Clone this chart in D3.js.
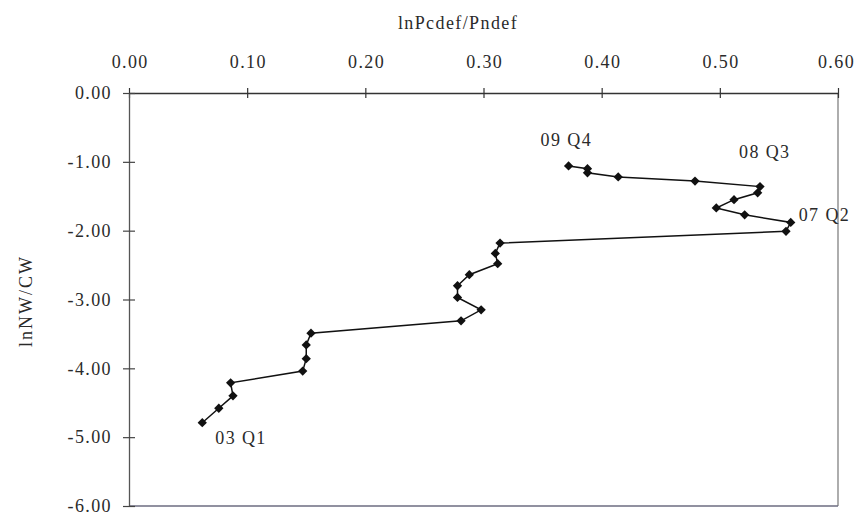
<!DOCTYPE html>
<html>
<head>
<meta charset="utf-8">
<script src="https://cdn.jsdelivr.net/npm/d3@7"></script>
<style>
  body { margin: 0; background: #fff; }
  svg text { font-family: "Liberation Serif", "DejaVu Serif", serif; fill: #2a2a2a; letter-spacing: 1.4px; }
</style>
</head>
<body>
<div id="chart"></div>
<script>
// quarters 03 Q1 .. 09 Q4
var quarters = [];
for (var yr = 3; yr <= 9; yr++) {
    for (var q = 1; q <= 4; q++) quarters.push("0" + yr + " Q" + q);
}
var pricePremium = [0.062, 0.076, 0.088, 0.086, 0.147, 0.150, 0.150, 0.154,
    0.281, 0.298, 0.278, 0.278, 0.288, 0.312, 0.310, 0.314,
    0.556, 0.560, 0.521, 0.497, 0.512, 0.532, 0.534, 0.479,
    0.414, 0.388, 0.388, 0.372];
var wageRatio = [-4.79, -4.58, -4.40, -4.21, -4.04, -3.86, -3.66, -3.49,
    -3.31, -3.15, -2.97, -2.80, -2.64, -2.48, -2.33, -2.18,
    -2.01, -1.88, -1.77, -1.67, -1.55, -1.45, -1.36, -1.28,
    -1.22, -1.16, -1.10, -1.06];
var xTicks = [0, 0.1, 0.2, 0.3, 0.4, 0.5, 0.6];
var yTicks = [0, -1, -2, -3, -4, -5, -6];
var labelled = ["03 Q1", "07 Q2", "08 Q3", "09 Q4"];

var width = 856, height = 515;
var margin = { top: 93, right: 18, bottom: 9, left: 129 };

var svg = d3.select("#chart").append("svg")
    .attr("width", width)
    .attr("height", height);

var x = d3.scaleLinear().domain([0, 0.6]).range([margin.left, width - margin.right]);
var y = d3.scaleLinear().domain([0, -6]).range([margin.top, height - margin.bottom]);

var fmt = function (d) { return d.toFixed(2); };  // plain hyphen for negatives

// frame: right and bottom borders
svg.append("line")
    .attr("x1", x(0.6)).attr("x2", x(0.6))
    .attr("y1", y(0)).attr("y2", y(-6))
    .attr("stroke", "#777").attr("stroke-width", 1.2);
svg.append("line")
    .attr("x1", x(0)).attr("x2", x(0.6))
    .attr("y1", y(-6)).attr("y2", y(-6))
    .attr("stroke", "#6c6c80").attr("stroke-width", 1.4);

// top axis (crossing ticks)
var xAxis = d3.axisTop(x)
    .tickValues(xTicks)
    .tickFormat(fmt)
    .tickSizeInner(0).tickSizeOuter(0).tickPadding(25);
var gx = svg.append("g")
    .attr("transform", "translate(0," + y(0) + ")")
    .call(xAxis);
gx.select(".domain").attr("stroke", "#333").attr("stroke-width", 1.6);
gx.selectAll(".tick text")
    .attr("font-size", 18).attr("fill", "#2a2a2a")
    .attr("dx", function (d) { return d === 0.6 ? "-2px" : "0.7px"; });
gx.selectAll(".tick").append("line")
    .attr("y1", -5).attr("y2", 5)
    .attr("stroke", "#333").attr("stroke-width", 1.2);

// left axis (crossing ticks)
var yAxis = d3.axisLeft(y)
    .tickValues(yTicks)
    .tickFormat(fmt)
    .tickSizeInner(0).tickSizeOuter(0).tickPadding(17);
var gy = svg.append("g")
    .attr("transform", "translate(" + x(0) + ",0)")
    .call(yAxis);
gy.select(".domain").attr("stroke", "#555").attr("stroke-width", 1.3);
gy.selectAll(".tick text").attr("font-size", 18).attr("fill", "#2a2a2a");
gy.selectAll(".tick").append("line")
    .attr("x1", -6).attr("x2", 6)
    .attr("stroke", "#444").attr("stroke-width", 1.2);

// axis titles
svg.append("text")
    .attr("x", 458)
    .attr("y", 29)
    .attr("text-anchor", "middle")
    .attr("font-size", 18)
    .text("lnPcdef/Pndef");

svg.append("text")
    .attr("transform", "translate(32,301) rotate(-90)")
    .attr("text-anchor", "middle")
    .attr("font-size", 18)
    .style("letter-spacing", "2px")
    .text("lnNW/CW");

var data = quarters.map(function (d, i) {
    return { q: d, x: pricePremium[i], y: wageRatio[i] };
});

var line = d3.line()
    .x(function (d) { return x(d.x); })
    .y(function (d) { return y(d.y); });

svg.append("path")
    .datum(data)
    .attr("fill", "none")
    .attr("stroke", "#111")
    .attr("stroke-width", 1.5)
    .attr("d", line);

svg.selectAll(".pt")
    .data(data)
    .enter().append("path")
    .attr("class", "pt")
    .attr("transform", function (d) { return "translate(" + x(d.x) + "," + y(d.y) + ")"; })
    .attr("d", d3.symbol().type(d3.symbolDiamond2).size(55))
    .attr("fill", "#111");

// point labels
var labelOffset = {
    "03 Q1": [13, 21],
    "07 Q2": [8, -1],
    "08 Q3": [-21, -29],
    "09 Q4": [-28, -20]
};
svg.selectAll(".lbl")
    .data(data.filter(function (d) { return labelled.indexOf(d.q) >= 0; }))
    .enter().append("text")
    .attr("class", "lbl")
    .attr("x", function (d) { return x(d.x) + labelOffset[d.q][0]; })
    .attr("y", function (d) { return y(d.y) + labelOffset[d.q][1]; })
    .attr("font-size", 18)
    .text(function (d) { return d.q; });
</script>
</body>
</html>
